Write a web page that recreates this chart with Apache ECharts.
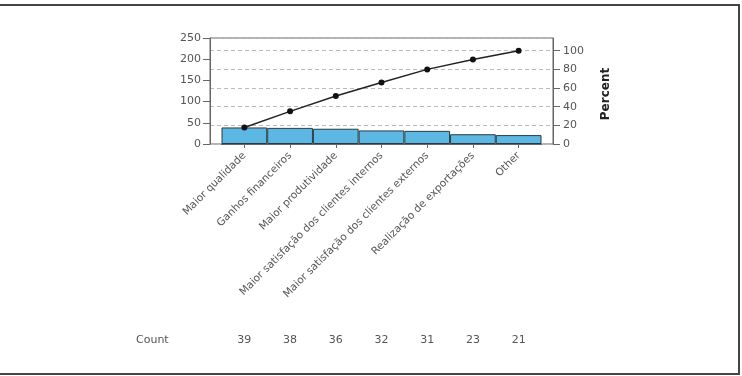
<!DOCTYPE html>
<html>
<head>
<meta charset="utf-8">
<script src="https://cdn.jsdelivr.net/npm/echarts@6/dist/echarts.min.js"></script>
<style>
html,body{margin:0;padding:0;background:#fff;}
#chart{width:742px;height:376px;}
</style>
</head>
<body>
<div id="chart"></div>
<script>
const categories = ["Maior qualidade","Ganhos financeiros","Maior produtividade","Maior satisfação dos clientes internos","Maior satisfação dos clientes externos","Realização de exportações","Other"];
const counts = [39, 38, 36, 32, 31, 23, 21];
const cumPercent = [17.7, 35.0, 51.4, 65.9, 80.0, 90.5, 100.0];
const countTicks = [0, 50, 100, 150, 200, 250];
const percentTicks = [0, 20, 40, 60, 80, 100];
const countRowLabel = 'Count';

const chart = echarts.init(document.getElementById('chart'), null, {renderer: 'canvas'});
const gray = '#555';
const fontFam = 'DejaVu Sans';
const countMax = countTicks[countTicks.length - 1];
const pctMax = 113.64;

chart.setOption({
  animation: false,
  backgroundColor: '#fff',
  graphic: [
    {type: 'rect', silent: true,
     shape: {x: -3, y: 5, width: 742, height: 369},
     style: {fill: 'none', stroke: '#444', lineWidth: 2}},
    {type: 'text', silent: true, left: 136, top: 335,
     style: {text: countRowLabel, fontSize: 11, fill: gray, fontFamily: fontFam}}
  ],
  grid: [
    {left: 210, top: 38, width: 343, height: 106, show: true, borderColor: '#666', borderWidth: 1, backgroundColor: 'transparent'},
    {left: 221.5, top: 38, width: 320, height: 106}
  ],
  xAxis: [
    {gridIndex: 0, type: 'value', min: 0, max: 1, show: false},
    {gridIndex: 1, type: 'category', data: categories, position: 'bottom',
     axisLine: {show: true, lineStyle: {color: '#666'}},
     axisTick: {show: true, alignWithLabel: true, length: 4, lineStyle: {color: '#666'}},
     axisLabel: {interval: 0, rotate: 45, fontSize: 10.5, color: gray, margin: 10, fontFamily: fontFam}},
    {gridIndex: 1, type: 'category', data: categories, position: 'bottom', offset: 196,
     axisLine: {show: false}, axisTick: {show: false},
     axisLabel: {interval: 0, margin: 0, verticalAlign: 'middle', fontSize: 11, color: gray, fontFamily: fontFam,
       formatter: (v, i) => String(counts[i])}}
  ],
  yAxis: [
    {gridIndex: 0, type: 'value', position: 'left', min: countTicks[0], max: countMax, interval: 50,
     axisLine: {show: true, lineStyle: {color: '#666'}},
     axisTick: {show: true, length: 7, lineStyle: {color: '#666'}},
     axisLabel: {fontSize: 11, color: gray, margin: 9, fontFamily: fontFam},
     splitLine: {show: false}},
    {gridIndex: 0, type: 'value', position: 'right', min: 0, max: pctMax, interval: 20,
     axisLine: {show: true, lineStyle: {color: '#666'}},
     axisTick: {show: true, length: 7, lineStyle: {color: '#666'}},
     axisLabel: {fontSize: 11, color: gray, margin: 10, fontFamily: fontFam, showMaxLabel: false,
       formatter: v => (percentTicks.indexOf(v) >= 0 ? String(v) : '')},
     splitLine: {show: true, lineStyle: {color: '#bbb', type: [4, 3], width: 1}},
     name: 'Percent', nameLocation: 'middle', nameRotate: 90, nameGap: 47,
     nameTextStyle: {fontSize: 12, fontWeight: 'bold', color: '#222', fontFamily: fontFam, padding: [0, 6, 0, 0]}},
    {gridIndex: 1, type: 'value', min: 0, max: countMax, show: false},
    {gridIndex: 1, type: 'value', min: 0, max: pctMax, show: false}
  ],
  series: [
    {type: 'bar', xAxisIndex: 1, yAxisIndex: 2, data: counts, barWidth: '100%', barCategoryGap: 0,
     itemStyle: {color: '#5cb8e2', borderColor: '#2a3a44', borderWidth: 1}},
    {type: 'line', xAxisIndex: 1, yAxisIndex: 3, data: cumPercent, symbol: 'circle', symbolSize: 6,
     lineStyle: {color: '#222', width: 1.5}, itemStyle: {color: '#111'}}
  ]
});
</script>
</body>
</html>
